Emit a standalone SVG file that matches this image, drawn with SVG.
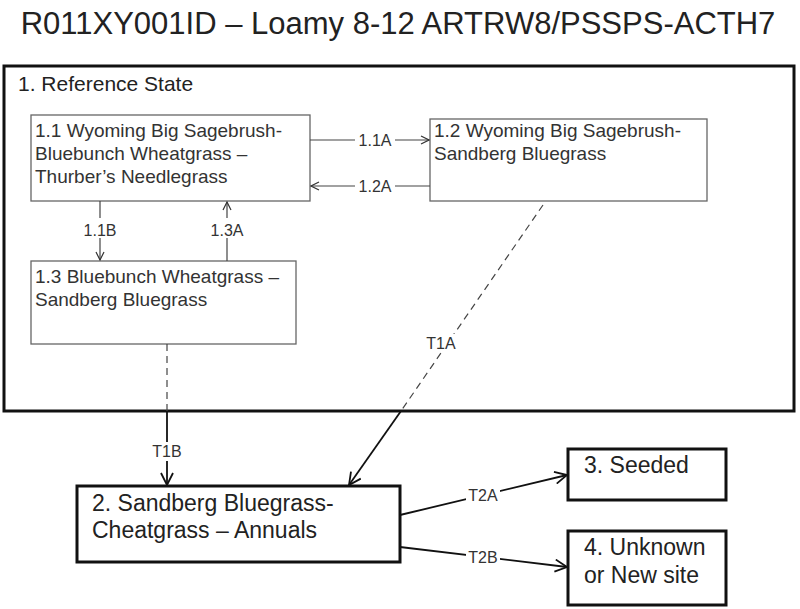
<svg xmlns="http://www.w3.org/2000/svg" width="800" height="609" viewBox="0 0 800 609">
<defs>
<marker id="a" markerWidth="10" markerHeight="10" refX="9" refY="5" orient="auto" markerUnits="userSpaceOnUse"><path d="M1,1 L9,5 L1,9" fill="none" stroke="#333" stroke-width="1.2"/></marker>
<marker id="b" markerWidth="14" markerHeight="14" refX="13" refY="7" orient="auto" markerUnits="userSpaceOnUse"><path d="M1,1 L13,7 L1,13" fill="none" stroke="#111" stroke-width="1.8"/></marker>
</defs>
<style>
text{font-family:"Liberation Sans",Arial,sans-serif;fill:#222}
.s{font-size:19px;fill:#333}
.l{font-size:16px;fill:#333}
.b{font-size:23px}
.in{fill:#fff;stroke:#666;stroke-width:1.3}
.st{fill:#fff;stroke:#111;stroke-width:3}
.c{fill:none;stroke:#444;stroke-width:1.2}
.d{stroke-dasharray:7,5}
.k{fill:none;stroke:#111;stroke-width:1.8}
</style>
<rect width="800" height="609" fill="#fff"/>
<text x="398" y="34" text-anchor="middle" font-size="31">R011XY001ID – Loamy 8-12 ARTRW8/PSSPS-ACTH7</text>
<g id="state1"><rect class="st" x="4" y="66" width="790" height="345"/><text x="18" y="91" font-size="21">1. Reference State</text></g>
<g id="n11"><rect class="in" x="31" y="115" width="279" height="86"/><text class="s" x="35" y="137">1.1 Wyoming Big Sagebrush-</text><text class="s" x="35" y="160">Bluebunch Wheatgrass –</text><text class="s" x="35" y="183">Thurber’s Needlegrass</text></g>
<g id="n12"><rect class="in" x="430" y="119" width="277" height="82"/><text class="s" x="434" y="137">1.2 Wyoming Big Sagebrush-</text><text class="s" x="434" y="160">Sandberg Bluegrass</text></g>
<g id="n13"><rect class="in" x="31" y="261" width="265" height="83"/><text class="s" x="35" y="283">1.3 Bluebunch Wheatgrass –</text><text class="s" x="35" y="306">Sandberg Bluegrass</text></g>
<g id="s2"><rect class="st" x="77" y="486" width="323" height="76"/><text class="b" x="92" y="511">2. Sandberg Bluegrass-</text><text class="b" x="92" y="538">Cheatgrass – Annuals</text></g>
<g id="s3"><rect class="st" x="568" y="449" width="158" height="51"/><text class="b" x="584" y="473">3. Seeded</text></g>
<g id="s4"><rect class="st" x="568" y="531" width="158" height="74"/><text class="b" x="584" y="555">4. Unknown</text><text class="b" x="584" y="583">or New site</text></g>
<g id="connectors">
<line class="c" x1="310" y1="140" x2="429" y2="140" marker-end="url(#a)"/>
<line class="c" x1="430" y1="186" x2="311" y2="186" marker-end="url(#a)"/>
<line class="c" x1="100" y1="201" x2="100" y2="260" marker-end="url(#a)"/>
<line class="c" x1="227" y1="261" x2="227" y2="202" marker-end="url(#a)"/>
<line class="c d" x1="167" y1="344" x2="167" y2="411"/>
<line class="k" x1="167" y1="411" x2="167" y2="485" marker-end="url(#b)"/>
<line class="c d" x1="543" y1="205" x2="401" y2="411"/>
<line class="k" x1="401" y1="411" x2="349" y2="485" marker-end="url(#b)"/>
<line class="k" x1="400" y1="515" x2="567" y2="475" marker-end="url(#b)"/>
<line class="k" x1="400" y1="547" x2="567" y2="567" marker-end="url(#b)"/>
</g>
<g id="labels">
<rect x="355" y="131" width="40" height="18" fill="#fff"/><text class="l" x="375" y="146" text-anchor="middle">1.1A</text>
<rect x="355" y="177" width="40" height="18" fill="#fff"/><text class="l" x="375" y="192" text-anchor="middle">1.2A</text>
<rect x="80" y="218" width="40" height="20" fill="#fff"/><text class="l" x="100" y="236" text-anchor="middle">1.1B</text>
<rect x="207" y="218" width="40" height="20" fill="#fff"/><text class="l" x="227" y="236" text-anchor="middle">1.3A</text>
<rect x="150" y="442" width="34" height="19" fill="#fff"/><text class="l" x="167" y="457" text-anchor="middle">T1B</text>
<rect x="424" y="334" width="34" height="18" fill="#fff"/><text class="l" x="441" y="349" text-anchor="middle">T1A</text>
<rect x="466" y="486" width="34" height="18" fill="#fff"/><text class="l" x="483" y="501" text-anchor="middle">T2A</text>
<rect x="466" y="548" width="34" height="18" fill="#fff"/><text class="l" x="483" y="563" text-anchor="middle">T2B</text>
</g>
</svg>
